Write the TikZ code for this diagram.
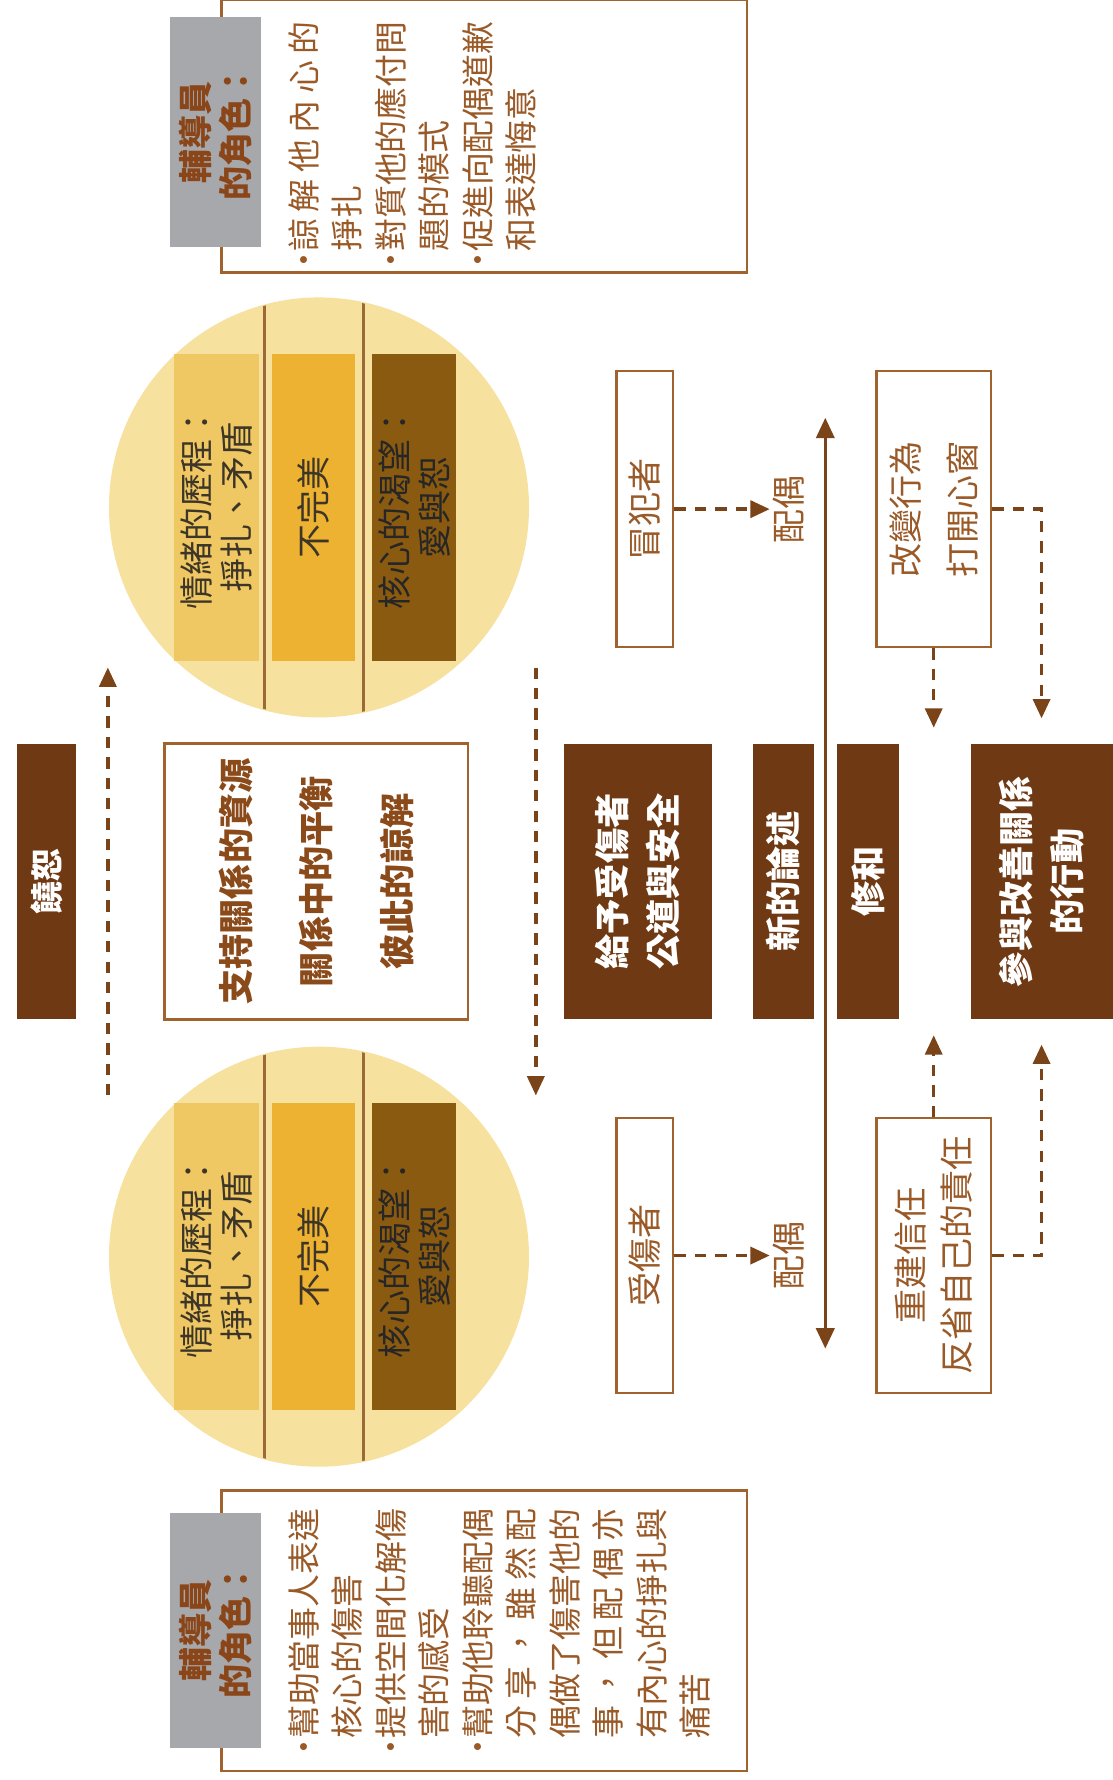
\documentclass[tikz,border=0pt]{standalone}
\usepackage{fontspec}
\setmainfont{Noto Sans CJK TC}
\usetikzlibrary{arrows.meta,calc}
\definecolor{dbrown}{HTML}{6F3913}
\definecolor{lbrown}{HTML}{A0632E}
\definecolor{tbrown}{HTML}{9A5A28}
\definecolor{midtext}{HTML}{8B4A1A}
\definecolor{lblgray}{HTML}{A6A8AB}
\definecolor{lbltext}{HTML}{8A4518}
\definecolor{circfill}{HTML}{F7E19F}
\definecolor{rone}{HTML}{F0C863}
\definecolor{rtwo}{HTML}{EDB231}
\definecolor{rthree}{HTML}{8A5A10}
\definecolor{divline}{HTML}{9B6A38}
\definecolor{ctext}{HTML}{3D3628}
\definecolor{arrowc}{HTML}{7A4418}
\newcommand\bul{\llap{•\kern-7pt}}
\newcommand\jl[1]{\makebox[7em][s]{#1}}
\begin{document}
\begin{tikzpicture}[x=1pt,y=-1pt,
  frame/.style={draw=lbrown, line width=2pt, fill=white, inner sep=0pt},
  vt/.style={rotate=90, align=center, inner sep=0pt},
  lbl/.style={vt, fill=lblgray, text=lbltext, font=\bfseries\fontsize{30}{35}\selectfont},
  role/.style={rotate=90, align=left, anchor=north west, inner sep=0pt, text=tbrown, font=\fontsize{29}{38.3}\selectfont},
  band/.style={vt, minimum width=270pt, font=\fontsize{30}{35}\selectfont, text=ctext},
  darkbox/.style={vt, fill=dbrown, text=white, minimum width=243pt, font=\bfseries\fontsize{31}{45}\selectfont},
  outbox/.style={vt, draw=lbrown, line width=2pt, fill=white, text=tbrown, font=\fontsize{30}{50}\selectfont},
  spouse/.style={vt, inner sep=3pt, text=tbrown, font=\fontsize{30}{35}\selectfont},
  dasharrow/.style={arrowc, line width=3pt, dash pattern=on 10pt off 8pt, -{Triangle[length=17pt,width=15pt]}},
  solidarrow/.style={arrowc, line width=3pt, {Triangle[length=18pt,width=16pt]}-{Triangle[length=18pt,width=16pt]}}
]
\useasboundingbox (0,0) rectangle (980,1568);
\fill[white] (0,0) rectangle (980,1568);

% counselor boxes
\node[frame, minimum width=463pt, minimum height=240pt] (topbox) at (426.5,120) {};
\node[frame, minimum width=463pt, minimum height=247pt] (botbox) at (426.5,1436.5) {};
\node[lbl, minimum width=203pt, minimum height=80pt] (toplbl) at (190,116.5) {輔導員\\的角色：};
\node[lbl, minimum width=207pt, minimum height=80pt] (botlbl) at (190,1436.5) {輔導員\\的角色：};
\node[role] (toptext) at (254,222) {\bul\jl{諒 解 他 內 心 的}\\掙扎\\\bul 對質他的應付問\\題的模式\\\bul 促進向配偶道歉\\和表達悔意};
\node[role] (bottext) at (254,1532) {\bul 幫助當事人表達\\核心的傷害\\\bul 提供空間化解傷\\害的感受\\\bul 幫助他聆聽配偶\\\jl{分 享 ， 雖 然 配}\\偶做了傷害他的\\\jl{事 ， 但 配 偶 亦}\\有內心的掙扎與\\痛苦};

% circles
\node[circle, fill=circfill, minimum size=370pt, inner sep=0pt] (circA) at (281,447) {};
\node[circle, fill=circfill, minimum size=370pt, inner sep=0pt] (circB) at (281,1107) {};
\begin{scope}
  \clip (circA.center) circle[radius=184];
  \draw[divline, line width=3pt] (233,250) -- (233,650) (320,250) -- (320,650);
\end{scope}
\begin{scope}
  \clip (circB.center) circle[radius=184];
  \draw[divline, line width=3pt] (233,910) -- (233,1310) (320,910) -- (320,1310);
\end{scope}
\node[band, fill=rone, minimum height=75pt] (a1) at (190.5,447) {情緒的歷程：\\掙扎、矛盾};
\node[band, fill=rtwo, minimum height=73pt] (a2) at (276.5,447) {不完美};
\node[band, fill=rthree, minimum height=74pt, text=black!85] (a3) at (365,447) {核心的渴望：\\愛與恕};
\node[band, fill=rone, minimum height=75pt] (b1) at (190.5,1107) {情緒的歷程：\\掙扎、矛盾};
\node[band, fill=rtwo, minimum height=73pt] (b2) at (276.5,1107) {不完美};
\node[band, fill=rthree, minimum height=74pt, text=black!85] (b3) at (365,1107) {核心的渴望：\\愛與恕};

% middle row
\node[darkbox, minimum height=52pt, font=\bfseries\fontsize{29}{35}\selectfont] (forgive) at (41,776.5) {饒恕};
\node[outbox, minimum width=243pt, minimum height=267pt, text=midtext, font=\bfseries\fontsize{31}{71}\selectfont] (mid) at (278.5,776.5) {支持關係的資源\\關係中的平衡\\彼此的諒解};
\node[darkbox, minimum height=130pt] (give) at (562,776.5) {給予受傷者\\公道與安全};
\node[darkbox, minimum height=54pt] (narr) at (690,776.5) {新的論述};
\node[darkbox, minimum height=55pt] (recon) at (764.5,776.5) {修和};
\node[darkbox, minimum height=125pt] (act) at (917.5,776.5) {參與改善關係\\的行動};

% outline boxes
\node[outbox, minimum width=243pt, minimum height=50pt] (off) at (568,448.5) {冒犯者};
\node[outbox, minimum width=242pt, minimum height=50pt] (hurt) at (568,1106) {受傷者};
\node[outbox, minimum width=243pt, minimum height=101pt] (change) at (822.5,448.5) {改變行為\\打開心窗};
\node[outbox, minimum width=242pt, minimum height=101pt, font=\fontsize{30}{41}\selectfont] (rebuild) at (822.5,1106) {重建信任\\反省自己的責任};
\node[spouse] (sp1) at (695,448.5) {配偶};
\node[spouse] (sp2) at (695,1106) {配偶};

% free ends
\coordinate (l1) at (95,965);
\coordinate (l2) at (95,588);
\coordinate (r1) at (472,588);
\coordinate (r2) at (472,965);
\coordinate (v1) at (727,368);
\coordinate (v2) at (727,1188);
\coordinate (c1) at (822.5,641);
\coordinate (c2) at (822.5,912);

% connectors
\draw[dasharrow] (l1) -- (l2);
\draw[dasharrow] (r1) -- (r2);
\draw[solidarrow] (v1) -- (v2);
\draw[dasharrow] (off.south) -- (sp1.north);
\draw[dasharrow] (hurt.south) -- (sp2.north);
\draw[dasharrow] (change.west) -- (c1);
\draw[dasharrow, shorten >=22pt] (change.south) -| (act.east);
\draw[dasharrow] (rebuild.east) -- (c2);
\draw[dasharrow, shorten >=22pt] (rebuild.south) -| (act.west);
\end{tikzpicture}
\end{document}
